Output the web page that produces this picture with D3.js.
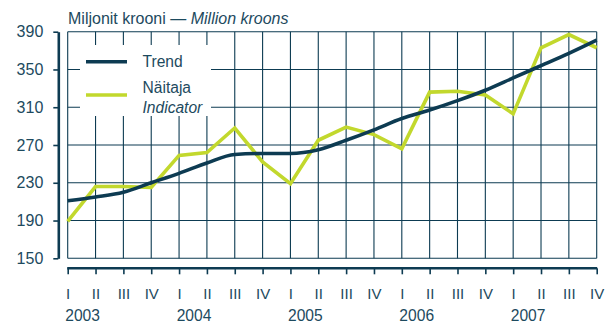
<!DOCTYPE html>
<html>
<head>
<meta charset="utf-8">
<script src="https://cdn.jsdelivr.net/npm/d3@7"></script>
<style>
  html, body { margin: 0; padding: 0; background: #fff; }
  svg { display: block; }
  text { font-family: "Liberation Sans", Arial, sans-serif; fill: #1d4a5e; }
</style>
</head>
<body>
<svg id="chart" width="606" height="322"></svg>
<script>
// Quarterly data, 2003 Q1 – 2007 Q4 (million kroons)
const quarters = ["I", "II", "III", "IV"];
const years = ["2003", "2004", "2005", "2006", "2007"];
const trend = [211, 215, 220, 230, 240, 251, 260, 261, 261, 265, 275, 286, 298, 307, 317, 328, 341, 354, 367, 381];
const indicator = [189, 226, 226, 225, 259, 262, 288, 252, 229, 275, 289, 281, 266, 326, 327, 323, 303, 373, 387, 373];
const yTicks = [150, 190, 230, 270, 310, 350, 390];

const navy = "#0d3b52";
const lime = "#c2d82d";

const svg = d3.select("#chart");
const plotLeft = 67.7, plotRight = 596.7, plotTop = 31.7, plotBottom = 258.3;

const idx = d3.range(trend.length);
const x = d3.scalePoint().domain(idx).range([plotLeft, plotRight]);
const y = d3.scaleLinear().domain([150, 390]).range([plotBottom, plotTop]);

// Grid
const grid = svg.append("g");
grid.selectAll("line.h").data(yTicks).join("line")
  .attr("x1", plotLeft).attr("x2", plotRight)
  .attr("y1", d => y(d)).attr("y2", d => y(d))
  .attr("stroke", navy).attr("stroke-width", 1.1);
grid.selectAll("line.v").data(idx).join("line")
  .attr("x1", d => x(d)).attr("x2", d => x(d))
  .attr("y1", plotTop).attr("y2", plotBottom)
  .attr("stroke", navy).attr("stroke-width", 1.1);

// Legend background
svg.append("rect").attr("x", 80).attr("y", 45).attr("width", 131).attr("height", 71).attr("fill", "#fff");

// Y axis
const yAxis = svg.append("g").attr("transform", "translate(58.3,0)")
  .call(d3.axisLeft(y).tickValues(yTicks).tickSize(5).tickSizeOuter(0).tickPadding(10));
yAxis.select(".domain").attr("stroke", navy).attr("stroke-width", 2.6);
yAxis.selectAll(".tick line").attr("stroke", navy).attr("stroke-width", 1.6);
yAxis.selectAll(".tick text").attr("font-size", 16).attr("font-family", null).style("fill", "#1d4a5e");

// X axis
const xAxis = svg.append("g").attr("transform", "translate(0,268.3)")
  .call(d3.axisBottom(x).tickSize(6).tickSizeOuter(0).tickFormat(d => quarters[d % 4]));
xAxis.select(".domain").attr("stroke", navy).attr("stroke-width", 2.6)
  .attr("d", `M${plotLeft - 0.5},0H${plotRight + 0.5}`);
xAxis.selectAll(".tick line").attr("stroke", navy).attr("stroke-width", 1.6);
xAxis.selectAll(".tick text").attr("font-size", 15).attr("font-family", null)
  .attr("y", 30.6).attr("dy", null).style("fill", "#1d4a5e");

// Year labels, centred between the first and second quarter of each year
svg.append("g").selectAll("text").data(years).join("text")
  .attr("x", (d, i) => (x(i * 4) + x(i * 4 + 1)) / 2 + 1)
  .attr("y", 320.5)
  .attr("text-anchor", "middle")
  .attr("font-size", 15.6)
  .text(d => d);

// Lines
const line = d3.line().x((d, i) => x(i)).y(d => y(d));
svg.append("path").datum(indicator).attr("d", line)
  .attr("fill", "none").attr("stroke", lime).attr("stroke-width", 3.6).attr("stroke-linejoin", "miter");
svg.append("path").datum(trend).attr("d", d3.line().x((d, i) => x(i)).y(d => y(d)).curve(d3.curveMonotoneX))
  .attr("fill", "none").attr("stroke", navy).attr("stroke-width", 3.6);

// Title
const title = svg.append("text").attr("x", 68).attr("y", 24).attr("font-size", 16);
title.append("tspan").text("Miljonit krooni — ");
title.append("tspan").attr("font-style", "italic").text("Million kroons");

// Legend
const legend = svg.append("g");
legend.append("line").attr("x1", 86).attr("x2", 127).attr("y1", 61.7).attr("y2", 61.7)
  .attr("stroke", navy).attr("stroke-width", 3.6);
legend.append("line").attr("x1", 86).attr("x2", 127).attr("y1", 95).attr("y2", 95)
  .attr("stroke", lime).attr("stroke-width", 3.6);
legend.append("text").attr("x", 142.5).attr("y", 67).attr("font-size", 15.6).text("Trend");
legend.append("text").attr("x", 142.5).attr("y", 93).attr("font-size", 15.6).text("Näitaja");
legend.append("text").attr("x", 142.5).attr("y", 112.5).attr("font-size", 15.6).attr("font-style", "italic").text("Indicator");
</script>
</body>
</html>
